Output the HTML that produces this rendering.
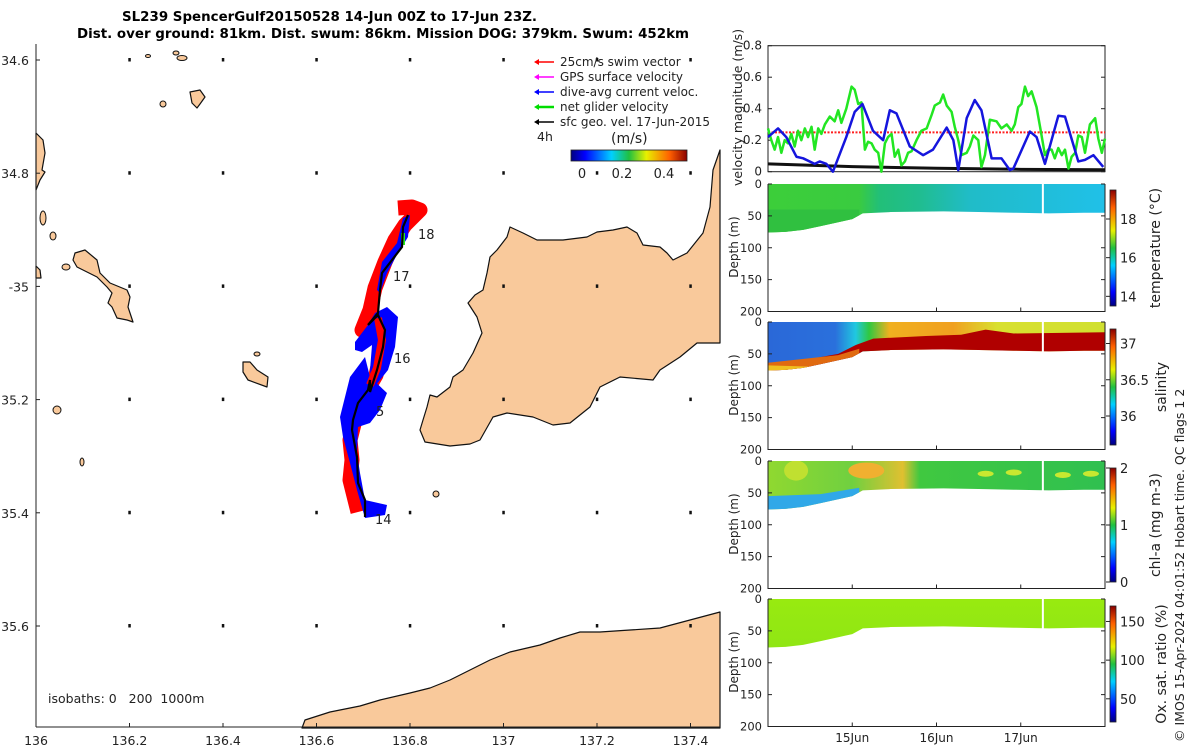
<!DOCTYPE html>
<html><head><meta charset="utf-8"><style>
body{margin:0;background:#fff}
svg{display:block;font-family:"DejaVu Sans","Liberation Sans",sans-serif}
text{fill:#222}
</style></head><body>
<svg id="s" width="1200" height="750" viewBox="0 0 1200 750" xmlns="http://www.w3.org/2000/svg">
<defs>
<linearGradient id="jet" x1="0" y1="1" x2="0" y2="0">
<stop offset="0" stop-color="#00007f"/><stop offset="0.12" stop-color="#0000ff"/><stop offset="0.35" stop-color="#00d0ff"/><stop offset="0.5" stop-color="#20c040"/><stop offset="0.65" stop-color="#e8f000"/><stop offset="0.85" stop-color="#ff6000"/><stop offset="1" stop-color="#8a0000"/></linearGradient>
<linearGradient id="jeth" x1="0" y1="0" x2="1" y2="0">
<stop offset="0" stop-color="#00007f"/><stop offset="0.12" stop-color="#0000ff"/><stop offset="0.35" stop-color="#00d0ff"/><stop offset="0.5" stop-color="#20c040"/><stop offset="0.65" stop-color="#e8f000"/><stop offset="0.85" stop-color="#ff6000"/><stop offset="1" stop-color="#8a0000"/></linearGradient>
<linearGradient id="gT" x1="0" y1="0" x2="1" y2="0">
<stop offset="0" stop-color="#3cce3a"/><stop offset="0.27" stop-color="#3acb40"/><stop offset="0.33" stop-color="#22bf78"/><stop offset="0.45" stop-color="#20bd90"/><stop offset="0.6" stop-color="#20bcc8"/><stop offset="1" stop-color="#20c0e8"/></linearGradient>
<linearGradient id="gS" x1="0" y1="0" x2="1" y2="0">
<stop offset="0" stop-color="#2a68d8"/><stop offset="0.2" stop-color="#2a70dc"/><stop offset="0.26" stop-color="#20c8e0"/><stop offset="0.3" stop-color="#30c840"/><stop offset="0.36" stop-color="#f0b020"/><stop offset="0.55" stop-color="#f0a020"/><stop offset="0.68" stop-color="#d8e030"/><stop offset="1" stop-color="#d0e030"/></linearGradient>
<linearGradient id="gC" x1="0" y1="0" x2="1" y2="0">
<stop offset="0" stop-color="#90d830"/><stop offset="0.25" stop-color="#70d040"/><stop offset="0.4" stop-color="#e0c030"/><stop offset="0.45" stop-color="#40c840"/><stop offset="1" stop-color="#30c050"/></linearGradient>
<linearGradient id="gO" x1="0" y1="0" x2="0" y2="1">
<stop offset="0" stop-color="#98ea10"/><stop offset="0.75" stop-color="#90e614"/><stop offset="1" stop-color="#30d030"/></linearGradient>
</defs>
<g id="title">
<text x="122" y="21" font-size="13" font-weight="bold" textLength="415" lengthAdjust="spacingAndGlyphs" style="fill:#000">SL239 SpencerGulf20150528 14-Jun 00Z to 17-Jun 23Z.</text>
<text x="77" y="38" font-size="13" font-weight="bold" textLength="612" lengthAdjust="spacingAndGlyphs" style="fill:#000">Dist. over ground: 81km. Dist. swum: 86km. Mission DOG: 379km. Swum: 452km</text>
</g>
<g id="map"></g>
<g id="vel"></g>
<g id="sections"></g>
<text transform="translate(1184,742) rotate(-90)" font-size="12.5">© IMOS 15-Apr-2024 04:01:52 Hobart time. QC flags 1  2</text>
</svg>
<script>
// ---------- velocity data ----------
const greenHours=[0,0.95,1.9,2.85,3.8,4.75,5.7,6.65,7.6,8.55,9.5,10.5,11.4,12.4,13.3,14.3,15.2,16.2,17.6,19,20,20.9,22.3,23.8,24.7,25.7,26.6,27.6,28.5,29.5,30.4,31.4,32.3,33.3,34.2,35.2,36.1,37.1,38,39,39.9,40.9,42.3,43.7,45.2,46.6,47.5,49,49.9,50.9,52.3,53.2,54.2,55.1,56.6,57.5,58.5,59.9,60.8,61.8,63.2,65.1,66.5,68,69.4,70.3,71.3,72.2,73.2,74.1,75.1,76.5,77.5,78.9,79.8,80.8,81.7,82.7,83.7,84.6,85.6,86.5,87.5,88.4,89.4,90.3,91.7,93.2,94.1,95.1,96];
const greenVel=[0.275,0.20,0.14,0.22,0.12,0.20,0.18,0.24,0.16,0.26,0.20,0.275,0.22,0.285,0.14,0.275,0.24,0.30,0.35,0.32,0.39,0.31,0.40,0.54,0.52,0.43,0.44,0.14,0.19,0.18,0.14,0.12,0.0,0.18,0.22,0.24,0.095,0.14,0.04,0.065,0.12,0.13,0.20,0.26,0.275,0.36,0.42,0.44,0.49,0.42,0.38,0.285,0.20,0.105,0.12,0.16,0.23,0.20,0.03,0.105,0.33,0.32,0.275,0.30,0.26,0.30,0.41,0.43,0.54,0.48,0.51,0.41,0.285,0.105,0.14,0.14,0.085,0.15,0.105,0.14,0.02,0.095,0.12,0.23,0.22,0.12,0.30,0.34,0.21,0.12,0.21];
const blueHours=[0,2.85,5.2,8.1,10,13.3,14.7,16.6,18.5,22.3,24.7,26.9,29.9,32.8,34.7,36.6,40.4,44.2,47,50.9,52.8,54.2,56.6,58.9,60.8,63.7,66.5,68.9,69.9,74.6,76.5,78.9,82.7,84.6,88.4,90.3,92.7,95.5];
const blueVel=[0.22,0.275,0.22,0.095,0.085,0.05,0.065,0.05,0.0,0.22,0.38,0.43,0.26,0.2,0.39,0.37,0.16,0.105,0.14,0.28,0.2,0.01,0.34,0.455,0.39,0.085,0.085,0.01,0.02,0.255,0.22,0.05,0.355,0.35,0.065,0.075,0.105,0.03];
const blackHours=[0,24,48,72,96];
const blackVel=[0.05,0.032,0.022,0.015,0.012];
const swimSpeed=0.25;
const velTicks=[0,0.2,0.4,0.6,0.8];
const dayTicks=[24,48,72];
const dayLabels=["15Jun","16Jun","17Jun"];
// ---------- section data ----------
const profHours=[0,5,10,15,20,24,27,35,50,60,70,80,90,96];
const profDepth=[76,75,72,66,60,55,46,44,43,44,45,46,45,45];
const gapHour=78.3;
const depthTicks=[0,50,100,150,200];
const salRedHours=[0,10,20,25,30,45,55,62,70,96];
const salRedTop=[68,60,50,36,26,22,20,12,18,16];
const tempTicks=[14,16,18];const tempRange=[13.5,19.5];
const salTicks=[36,36.5,37];const salRange=[35.6,37.2];
const chlTicks=[0,1,2];const chlRange=[0,2];
const oxTicks=[50,100,150];const oxRange=[20,170];

const NS="http://www.w3.org/2000/svg";
function mk(parent,tag,attrs){const e=document.createElementNS(NS,tag);for(const k in attrs)e.setAttribute(k,attrs[k]);parent.appendChild(e);return e;}
function txt(parent,x,y,s,size,anchor){const t=mk(parent,'text',{x:x,y:y,'font-size':size||12,'text-anchor':anchor||'start'});t.textContent=s;return t;}

// ---------- velocity panel ----------
const V=document.getElementById('vel');
const X0=768,X1=1105;
const hx=h=>X0+h*(X1-X0)/96;
const vy=v=>171.7-v*157.5;
const vframe=mk(V,'rect',{x:X0,y:45.7,width:X1-X0,height:126,fill:'none',stroke:'#222','stroke-width':1});


velTicks.forEach(t=>{
  const l=txt(V,762,vy(t)+4,String(t),12,'end');
  
  
  mk(V,'line',{x1:X0,x2:X0+4,y1:vy(t),y2:vy(t),stroke:'#222'});
  mk(V,'line',{x1:X1,x2:X1-4,y1:vy(t),y2:vy(t),stroke:'#222'});
});
const vyl=mk(V,'text',{transform:'translate(742,186) rotate(-90)','font-size':12.5});
vyl.textContent='velocity magnitude (m/s)';


const sw=mk(V,'line',{x1:hx(0),x2:hx(96),y1:vy(swimSpeed),y2:vy(swimSpeed),stroke:'#ff2020','stroke-width':2,'stroke-dasharray':'2,1.5'});


function series(hs,vs,col,w,name){
  const p=mk(V,'polyline',{points:hs.map((h,i)=>hx(h)+','+vy(vs[i])).join(' '),fill:'none',stroke:col,'stroke-width':w,'stroke-linejoin':'round'});
  
  
}
series(blackHours,blackVel,'#111',3,'surface-geostrophic-line');
series(greenHours,greenVel,'#22e622',2.5,'net-glider-velocity-line');
series(blueHours,blueVel,'#1515dd',2.5,'dive-avg-current-line');

// ---------- sections ----------
const S=document.getElementById('sections');
const tops=[184,322,461,599];const PH=127.5;
const names=['temperature','salinity','chl-a','oxygen-saturation'];
const defs=document.querySelector('defs');
tops.forEach((top,k)=>{
  const dy=d=>top+d*PH/200;
  const g=mk(S,'g',{});
  
  
  const cp=mk(defs,'clipPath',{id:'cp'+k});
  let pts=[hx(0)+','+dy(0),hx(96)+','+dy(0)];
  for(let i=profHours.length-1;i>=0;i--)pts.push(hx(profHours[i])+','+dy(profDepth[i]));
  mk(cp,'polygon',{points:pts.join(' ')});
  const c=mk(g,'g',{'clip-path':'url(#cp'+k+')'});
  const fills=['url(#gT)','url(#gS)','url(#gC)','url(#gO)'];
  mk(c,'rect',{x:X0,y:top,width:X1-X0,height:PH/2,fill:fills[k]});
  if(k===0){ mk(c,'rect',{x:X0,y:dy(40),width:hx(26)-X0,height:30,fill:'#30c040'}); }
  if(k===1){
    let rp=salRedHours.map((h,i)=>hx(h)+','+dy(salRedTop[i]));
    rp.push(hx(96)+','+dy(60),hx(0)+','+dy(80));
    const r=mk(c,'polygon',{points:rp.join(' '),fill:'#b00000'});
    
    
    mk(c,'polygon',{points:[hx(0)+','+dy(64),hx(20)+','+dy(52),hx(26)+','+dy(42),hx(26)+','+dy(60),hx(0)+','+dy(80)].join(' '),fill:'#e06a10'});
    mk(c,'polygon',{points:[hx(0)+','+dy(68),hx(12)+','+dy(70),hx(12)+','+dy(80),hx(0)+','+dy(80)].join(' '),fill:'#f0c020'});
  }
  if(k===2){
    mk(c,'polygon',{points:[hx(0)+','+dy(55),hx(15)+','+dy(52),hx(26)+','+dy(42),hx(26)+','+dy(80),hx(0)+','+dy(80)].join(' '),fill:'#30a8e8'});
    mk(c,'ellipse',{cx:hx(28),cy:dy(15),rx:18,ry:8,fill:'#f0b030'});
    mk(c,'ellipse',{cx:hx(8),cy:dy(15),rx:12,ry:10,fill:'#c0e030'});
    [[62,20],[84,22],[92,20],[70,18]].forEach(p=>mk(c,'ellipse',{cx:hx(p[0]),cy:dy(p[1]),rx:8,ry:3,fill:'#c8e830'}));
  }
  mk(g,'rect',{x:hx(gapHour)-1,y:top,width:2,height:PH/2,fill:'#fff'});
  const fr=mk(g,'polyline',{points:`${X0},${top} ${X0},${top+PH} ${X1},${top+PH} ${X1},${top}`,fill:'none',stroke:'#222'});
  
  
  depthTicks.forEach(d=>{
    const t=txt(g,762,dy(d)+4,String(d),11.5,'end');
    
    
    mk(g,'line',{x1:X0,x2:X0+4,y1:dy(d),y2:dy(d),stroke:'#222'});
    mk(g,'line',{x1:X1,x2:X1-4,y1:dy(d),y2:dy(d),stroke:'#222'});
  });
  dayTicks.forEach(h=>{mk(g,'line',{x1:hx(h),x2:hx(h),y1:top+PH,y2:top+PH-4,stroke:'#222'});});
  const yl=mk(g,'text',{transform:`translate(738,${top+PH/2+30}) rotate(-90)`,'font-size':12});
  yl.textContent='Depth (m)';
  
  
});
dayTicks.forEach((h,i)=>{
  const t=txt(S,hx(h),742,dayLabels[i],12,'middle');
  
  
});
// colorbars
const cbs=[{y0:190,y1:306,ticks:tempTicks,r:tempRange,label:'temperature (°C)',lx:1160},
 {y0:329,y1:445,ticks:salTicks,r:salRange,label:'salinity',lx:1166},
 {y0:468,y1:582,ticks:chlTicks,r:chlRange,label:'chl-a (mg m-3)',lx:1160},
 {y0:606,y1:722,ticks:oxTicks,r:oxRange,label:'Ox. sat. ratio (%)',lx:1166}];
cbs.forEach((cb,k)=>{
  const g=mk(S,'g',{});
  
  
  mk(g,'rect',{x:1110,y:cb.y0,width:6,height:cb.y1-cb.y0,fill:'url(#jet)',stroke:'#222','stroke-width':0.8});
  const sy=v=>cb.y1-(v-cb.r[0])/(cb.r[1]-cb.r[0])*(cb.y1-cb.y0);
  cb.ticks.forEach(t=>{
    mk(g,'line',{x1:1106,x2:1110,y1:sy(t),y2:sy(t),stroke:'#222'});
    const l=txt(g,1120,sy(t)+5,String(t),13);
    
    
  });
  const lb=mk(g,'text',{transform:`translate(${cb.lx},${(cb.y0+cb.y1)/2}) rotate(-90)`,'font-size':14,'text-anchor':'middle'});
  lb.textContent=cb.label;
  
  
});

// ---------- map ----------
const M=document.getElementById('map');
const lonTicks=[136,136.2,136.4,136.6,136.8,137,137.2,137.4];
const latTicks=[34.6,34.8,35,35.2,35.4,35.6];
const latLabels=["34.6","34.8","-35","35.2","35.4","35.6"];
const lx=lon=>36+(lon-136)*467.5;
const ly=lat=>60+(lat-34.6)*566;
const LAND='#f9c99b';
function land(pts,name){
  const p=mk(M,'polygon',{points:pts.map(p=>p.join(',')).join(' '),fill:LAND,stroke:'#111','stroke-width':1.2,'stroke-linejoin':'round'});
  
  
}
land([[720,150],[713,170],[710,207],[703,233],[687,253],[673,260],[667,253],[660,247],[643,245],[637,233],[627,227],[613,230],[597,232],[587,237],[563,240],[537,240],[523,233],[510,227],[507,237],[497,250],[490,257],[487,273],[483,290],[475,295],[468,303],[477,317],[482,333],[473,353],[463,370],[453,377],[450,387],[437,397],[430,395],[427,407],[423,420],[420,430],[425,442],[450,446],[470,444],[480,440],[493,417],[507,413],[533,417],[553,425],[570,423],[590,407],[600,387],[620,377],[653,380],[660,370],[680,357],[697,343],[720,343]],'peninsula-land');
land([[302,728],[305,720],[330,712],[360,706],[380,700],[410,693],[430,688],[450,680],[470,670],[490,660],[510,652],[540,645],[560,638],[580,632],[600,632],[630,630],[660,628],[690,620],[720,612],[720,728]],'southern-land');
land([[36,133],[43,140],[45,153],[42,170],[45,172],[40,180],[36,190]],'western-coast');
land([[75,253],[85,250],[97,260],[100,273],[110,283],[127,290],[130,297],[128,307],[133,322],[127,320],[117,318],[112,307],[108,303],[112,293],[107,287],[97,277],[83,270],[77,267],[73,260]],'large-island');
land([[243,362],[250,362],[257,370],[268,377],[267,387],[248,380],[243,372]],'island-east');
land([[190,92],[200,90],[205,97],[200,104],[197,108],[192,103]],'island-north');
land([[36,266],[40,270],[41,278],[36,278]],'island-west-edge');
[[43,218,3,7],[53,236,3,4],[66,267,4,3],[182,58,5,2.5],[176,53,3,2],[163,104,3,3],[57,410,4,4],[82,462,2,4],[257,354,3,2],[436,494,3,3],[148,56,2.5,1.5]].forEach(e=>{
  const el=mk(M,'ellipse',{cx:e[0],cy:e[1],rx:e[2],ry:e[3],fill:LAND,stroke:'#111','stroke-width':1});
  
  
});
// geo velocity dots at grid points
lonTicks.slice(1).forEach(lo=>latTicks.forEach(la=>{
  const d=mk(M,'rect',{x:lx(lo)-1.2,y:ly(la)-2,width:2.5,height:3.5,fill:'#111'});
  
  
}));
// track
const red1=mk(M,'polyline',{points:'398,208 412,207 420,210 405,225 395,240 385,262 375,288 370,310 362,330 375,322 383,345 376,375 364,396 355,420 350,440 352,460 350,480 355,500 358,512',fill:'none',stroke:'#f00','stroke-width':15,'stroke-linejoin':'round'});


const blues=[[[410,215],[403,218],[397,243],[382,262],[377,290],[380,293],[387,273],[398,253],[408,237]],
 [[375,313],[387,307],[398,317],[395,347],[388,370],[372,390],[370,370],[372,345],[362,352],[355,350],[355,342],[368,325]],
 [[365,357],[370,377],[387,393],[380,410],[370,423],[358,427],[357,453],[360,473],[365,500],[387,505],[385,515],[365,518],[357,490],[350,463],[343,437],[340,417],[350,377]]];
blues.forEach(b=>{
  const p=mk(M,'polygon',{points:b.map(q=>q.join(',')).join(' '),fill:'#0000ff'});
  
  
});
const red2=mk(M,'polyline',{points:'378,318 382,340 377,368 370,385',fill:'none',stroke:'#f00','stroke-width':8});


mk(M,'rect',{x:401,y:233,width:4,height:12,fill:'#22e622'});
const trk=mk(M,'polyline',{points:'408,215 403,227 402,247 392,260 382,273 380,290 378,313 368,325 378,315 385,330 383,347 377,370 370,392 370,380 368,390 358,403 353,420 352,430 357,457 358,483 365,500 365,517',fill:'none',stroke:'#000','stroke-width':2.2});


[['18',418,239],['17',393,281],['16',394,363],['5',376,416],['14',375,524]].forEach(l=>{
  const t=txt(M,l[1],l[2],l[0],13);
  
  
});
// axes
mk(M,'line',{x1:36,x2:36,y1:44,y2:727,stroke:'#222'});
mk(M,'line',{x1:36,x2:720,y1:727,y2:727,stroke:'#222'});
lonTicks.forEach(lo=>{
  mk(M,'line',{x1:lx(lo),x2:lx(lo),y1:727,y2:723,stroke:'#222'});
  const t=txt(M,lx(lo),745,String(lo),12.5,'middle');
  
  
});
latTicks.forEach((la,i)=>{
  mk(M,'line',{x1:36,x2:40,y1:ly(la),y2:ly(la),stroke:'#222'});
  const t=txt(M,29,ly(la)+5,latLabels[i],12.5,'end');
  
  
});
const iso=txt(M,48,703,'isobaths: 0   200  1000m',12.5);


iso.setAttribute('xml:space','preserve');iso.style.whiteSpace='pre';
// legend
const legCols=['#ff0000','#ff00ff','#0000ff','#00dd00','#000'];
const legText=['25cm/s swim vector','GPS surface velocity','dive-avg current veloc.','net glider velocity','sfc geo. vel. 17-Jun-2015'];
const LG=mk(M,'g',{});


legText.forEach((s,i)=>{
  const y=62+i*15;
  mk(LG,'line',{x1:538,x2:554,y1:y,y2:y,stroke:legCols[i],'stroke-width':i==3?2.5:1.5});
  mk(LG,'polygon',{points:`534,${y} 539,${y-3} 539,${y+3}`,fill:legCols[i]});
  const t=txt(LG,560,y+4,s,12);
  
  
});
txt(LG,537,141,'4h',12.5);
txt(LG,611,143,'(m/s)',14);
mk(LG,'rect',{x:571,y:150,width:116,height:11,fill:'url(#jeth)',stroke:'#222','stroke-width':0.8});
[['0',582],['0.2',622],['0.4',664]].forEach(a=>{txt(LG,a[1],178,a[0],13,'middle');});
</script>
</body></html>
